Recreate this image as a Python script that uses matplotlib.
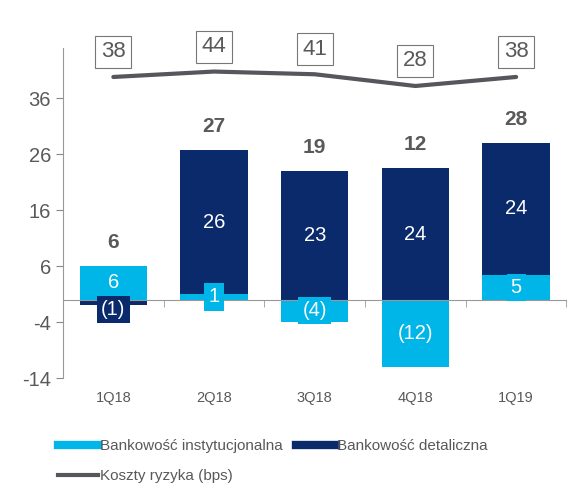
import numpy as np
import matplotlib.pyplot as plt
from matplotlib.lines import Line2D

plt.rcParams['font.family'] = ['Liberation Sans', 'DejaVu Sans']
plt.rcParams['axes.unicode_minus'] = False

# dane
quarters = ['1Q18', '2Q18', '3Q18', '4Q18', '1Q19']
inst = [6, 1, -4, -12, 4.4]          # Bankowość instytucjonalna
retail = [-1, 25.7, 23, 23.5, 23.7]  # Bankowość detaliczna
inst_labels = ['6', '1', '(4)', '(12)', '5']
retail_labels = ['(1)', '26', '23', '24', '24']
totals = ['6', '27', '19', '12', '28']
risk = [38, 44, 41, 28, 38]          # Koszty ryzyka (bps)

c_inst = '#00b5e8'
c_ret = '#0b2a6b'
c_line = '#55575c'
c_txt = '#595959'

fig = plt.figure(figsize=(5.81, 4.91), dpi=100)
ax = fig.add_axes([0.1084, 0.230, 0.8666, 0.672])
x = np.arange(len(quarters))
w = 0.67

inst = np.array(inst, dtype=float)
retail = np.array(retail, dtype=float)
# detaliczna stoi na instytucjonalnej tylko gdy obie dodatnie
base = np.where((inst > 0) & (retail > 0), inst, 0)

ax.bar(x, inst, w, color=c_inst, zorder=2)
ax.bar(x, retail, w, bottom=base, color=c_ret, zorder=2)

for i in range(len(x)):
    # etykiety segmentów
    for val, b, lab, col in [(inst[i], 0, inst_labels[i], c_inst),
                             (retail[i], base[i], retail_labels[i], c_ret)]:
        if abs(val) < 2 and val < 0:
            y, va = b, 'top'
        else:
            y, va = b + val / 2, 'center'
        ax.text(x[i], y, lab, ha='center', va=va, color='white', fontsize=14.5,
                zorder=4, bbox=dict(boxstyle='square,pad=0.2', fc=col, ec='none'))
    top = max(inst[i], retail[i] + base[i])
    ax.annotate(totals[i], (x[i], top), xytext=(0, 17), textcoords='offset points',
                ha='center', va='center', fontsize=15, fontweight='bold', color=c_txt)

ax.set_xlim(-0.5, len(x) - 0.5)
ax.set_ylim(-14, 45)
ax.set_yticks([-14, -4, 6, 16, 26, 36])
ax.tick_params(axis='y', colors='#888888', labelcolor=c_txt, labelsize=14.5, length=5)

ax.spines['top'].set_visible(False)
ax.spines['right'].set_visible(False)
ax.spines['left'].set_color('#999999')
ax.spines['bottom'].set_position(('data', 0))
ax.spines['bottom'].set_color('#999999')
ax.set_xticks([])
ax.set_xticks(np.arange(len(x)) + 0.5, minor=True)
ax.tick_params(axis='x', which='minor', length=5, colors='#999999', direction='out')
for i, q in enumerate(quarters):
    ax.text(x[i], -0.06, q, transform=ax.get_xaxis_transform(), ha='center', va='center',
            fontsize=10.5, color=c_txt)

# linia kosztów ryzyka
ax2 = ax.twinx()
ax2.plot(x, risk, color=c_line, lw=3, solid_capstyle='round', zorder=3)
ax2.set_ylim(-296, 70)
ax2.axis('off')
for i in range(len(x)):
    ax2.annotate(str(risk[i]), (x[i], risk[i]), xytext=(0, 18), textcoords='offset points',
                 ha='center', va='center', fontsize=16, color=c_txt,
                 bbox=dict(boxstyle='square,pad=0.25', fc='white', ec='#777777', lw=0.8))

handles = [Line2D([], [], color=c_inst, lw=6),
           Line2D([], [], color=c_line, lw=3),
           Line2D([], [], color=c_ret, lw=6)]
names = ['Bankowość instytucjonalna', 'Koszty ryzyka (bps)', 'Bankowość detaliczna']
fig.legend(handles, names, ncol=2, loc='upper left', bbox_to_anchor=(0.077, 0.134),
           frameon=False, fontsize=11, handlelength=2.6, handletextpad=0.1,
           columnspacing=0.9, labelspacing=1.05, labelcolor=c_txt)

fig.savefig('out.png', dpi=100)
